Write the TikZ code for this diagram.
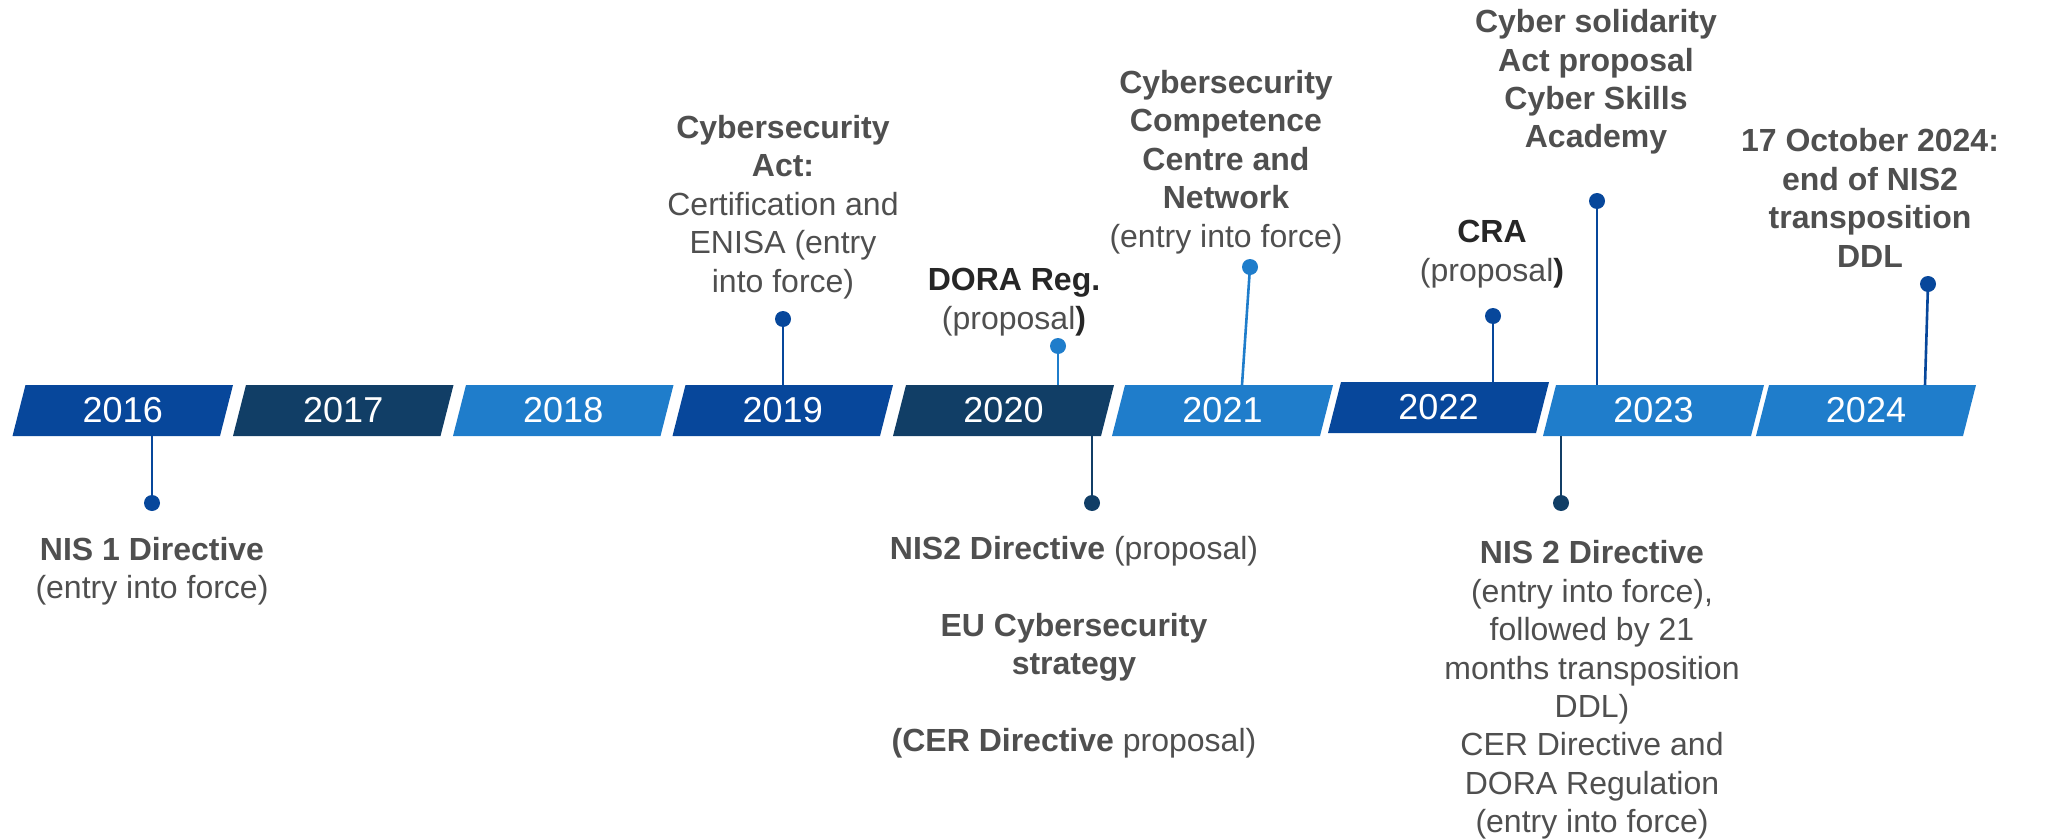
\documentclass[tikz,border=0pt]{standalone}
\usepackage{fontspec}
\setmainfont{Liberation Sans}
\definecolor{dblue}{HTML}{07479B}
\definecolor{navy}{HTML}{113E66}
\definecolor{lblue}{HTML}{1F7DCB}
\definecolor{txt}{HTML}{4F4F4F}
\definecolor{txtd}{HTML}{262626}
\tikzset{
  yearlabel/.style={text=white, font=\fontsize{36}{43}\selectfont, inner sep=0pt},
  evlabel/.style={text=txt, font=\fontsize{32}{38.4}\selectfont, align=center, inner sep=0pt},
  dotnode/.style={circle, fill=#1, minimum size=16pt, inner sep=0pt},
  stem/.style={draw=#1, line width=2.6pt},
}
\newcommand\yearseg[7]{%
  \fill[#6] (#2,#5) -- (#3,#5) -- ({#3+13},#4) -- ({#2+13},#4) -- cycle;
  \node[yearlabel] (#1) at ({(#2+#3)/2+6.5},{(#4+#5)/2}) {#7};
}
\begin{document}
\begin{tikzpicture}[x=1pt,y=-1pt]
\useasboundingbox (0,0) rectangle (2059,840);
% timeline bar
\yearseg{y16}{12.5}{220}{385}{436}{dblue}{2016}
\yearseg{y17}{233}{440.5}{385}{436}{navy}{2017}
\yearseg{y18}{453}{660.5}{385}{436}{lblue}{2018}
\yearseg{y19}{672.5}{880}{385}{436}{dblue}{2019}
\yearseg{y20}{893}{1101}{385}{436}{navy}{2020}
\yearseg{y21}{1112}{1320}{385}{436}{lblue}{2021}
\yearseg{y22}{1328}{1536}{382}{433}{dblue}{2022}
\yearseg{y23}{1543}{1751}{385}{436}{lblue}{2023}
\yearseg{y24}{1756}{1963}{385}{436}{lblue}{2024}
% anchor points on the bar
\coordinate (c16) at (152,436);
\coordinate (c19) at (783,385);
\coordinate (c20t) at (1058,385);
\coordinate (c20b) at (1092,436);
\coordinate (c21) at (1242,385);
\coordinate (c22) at (1493,382);
\coordinate (c23t) at (1597,385);
\coordinate (c23b) at (1561,436);
\coordinate (c24) at (1925,385);
% dots
\node[dotnode=dblue] (d16) at (152,503) {};
\node[dotnode=dblue] (d19) at (783,319) {};
\node[dotnode=lblue] (d20t) at (1058,346) {};
\node[dotnode=navy] (d20b) at (1092,503) {};
\node[dotnode=lblue] (d21) at (1250,267) {};
\node[dotnode=dblue] (d22) at (1493,316) {};
\node[dotnode=dblue] (d23t) at (1597,201) {};
\node[dotnode=navy] (d23b) at (1561,503) {};
\node[dotnode=dblue] (d24) at (1928,284) {};
% stems
\draw[stem=dblue] (d16.center) -- (c16);
\draw[stem=dblue] (d19.center) -- (c19);
\draw[stem=lblue] (d20t.center) -- (c20t);
\draw[stem=navy] (d20b.center) -- (c20b);
\draw[stem=lblue] (d21.center) -- (c21);
\draw[stem=dblue] (d22.center) -- (c22);
\draw[stem=dblue] (d23t.center) -- (c23t);
\draw[stem=navy] (d23b.center) -- (c23b);
\draw[stem=dblue] (d24.center) -- (c24);
% labels above
\node[evlabel] (l19) at (783,207) {\textbf{Cybersecurity}\\\textbf{Act:}\\Certification and\\ENISA (entry\\into force)};
\node[evlabel] (l20t) at (1014,302) {\textcolor{txtd}{\textbf{DORA Reg.}}\\(proposal\textcolor{txtd}{\textbf{)}}};
\node[evlabel] (l21) at (1226,162) {\textbf{Cybersecurity}\\\textbf{Competence}\\\textbf{Centre and}\\\textbf{Network}\\(entry into force)};
\node[evlabel] (l22) at (1492,254) {\textcolor{txtd}{\textbf{CRA}}\\(proposal\textcolor{txtd}{\textbf{)}}};
\node[evlabel] (l23t) at (1596,82) {\textbf{Cyber solidarity}\\\textbf{Act proposal}\\\textbf{Cyber Skills}\\\textbf{Academy}};
\node[evlabel] (l24) at (1870,198) {\textbf{17 October 2024:}\\\textbf{end of NIS2}\\\textbf{transposition}\\\textbf{DDL}};
% labels below
\node[evlabel] (l16) at (152,571) {\textbf{NIS 1 Directive}\\(entry into force)};
\node[evlabel] (l20b) at (1074,647) {\textbf{NIS2 Directive} (proposal)\\[38.4pt]\textbf{EU Cybersecurity}\\\textbf{strategy}\\[38.4pt]\textbf{(CER Directive} proposal)};
\node[evlabel] (l23b) at (1592,690) {\textbf{NIS 2 Directive}\\(entry into force),\\followed by 21\\months transposition\\DDL)\\CER Directive and\\DORA Regulation\\(entry into force)};
\end{tikzpicture}
\end{document}
